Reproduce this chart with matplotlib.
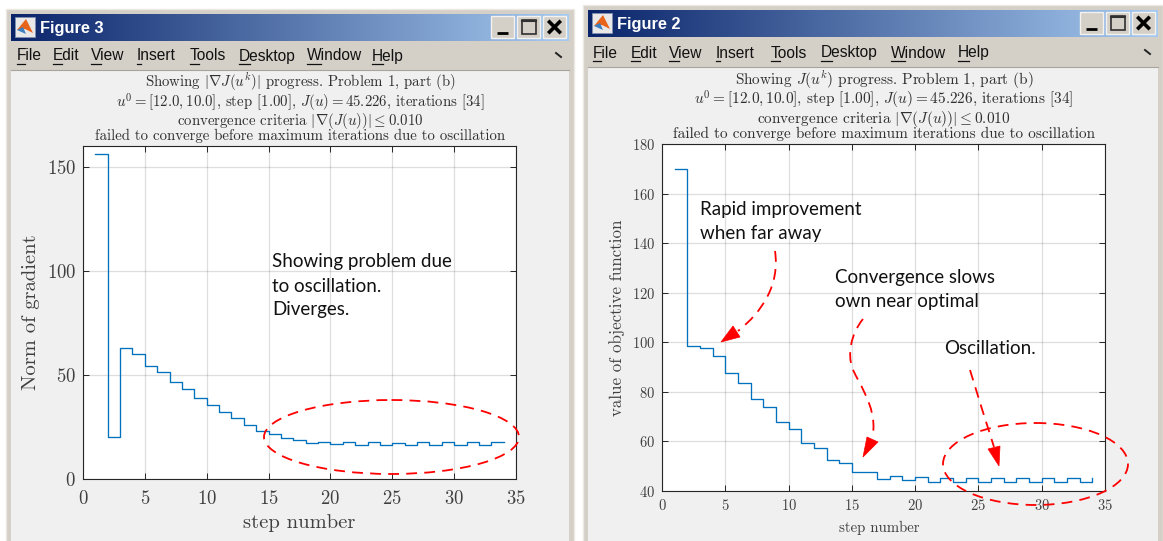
import numpy as np
import matplotlib
matplotlib.use("Agg")
import matplotlib.pyplot as plt
from matplotlib.patches import Rectangle, Ellipse, Polygon, PathPatch
from matplotlib.path import Path

plt.rcParams['mathtext.fontset'] = 'cm'
plt.rcParams['axes.unicode_minus'] = False
plt.rcParams['axes.formatter.use_mathtext'] = True

W, H = 1163, 541
SERIF = 'cmr10'
DARK = '#262626'
LINE = '#0072BD'
RED = '#FF0000'

steps = list(range(1, 35))
grad_norm = [156, 20, 63, 60.3, 54.5, 51.2, 46.5, 43.4, 38.8, 35.7, 32, 29.1, 25.8, 23.2,
             21.5, 19.5, 18.6, 17.3, 17.9, 17, 17.6, 16.5, 17.6, 16.5, 17.4, 16.5, 17.6,
             16.5, 17.6, 16.5, 17.6, 16.5, 17.6, 17.6]
objective = [169.9, 98.4, 97.8, 94.3, 87.5, 83.7, 77.1, 74, 68, 64.9, 59.5, 57.2, 52.5, 51.4,
             47.5, 47.5, 44.7, 46.2, 44.3, 45.6, 43.8, 45.2, 43.8, 45.2, 43.8, 45.2, 43.8,
             45.2, 43.8, 45.2, 43.8, 45.2, 43.8, 45.2]

x_ticks = [0, 5, 10, 15, 20, 25, 30, 35]
left_y_ticks = [0, 50, 100, 150]
right_y_ticks = [40, 60, 80, 100, 120, 140, 160, 180]

menu_names = ['File', 'Edit', 'View', 'Insert', 'Tools', 'Desktop', 'Window', 'Help']
menu_left_x = [17, 53, 91, 137, 190, 239, 307, 372]
menu_right_x = [593, 631, 669, 716, 771, 821, 891, 958]
menu_first_w = [8, 9, 10, 4, 9, 11, 14, 11]

left_title = [r'Showing $|\nabla J(u^k)|$ progress. Problem 1, part (b)',
              r'$u^0=[12.0,10.0]$, step [1.00], $J(u)=45.226$, iterations [34]',
              r'convergence criteria $|\nabla(J(u))|\leq 0.010$',
              'failed to converge before maximum iterations due to oscillation']
right_title = [r'Showing $J(u^k)$ progress. Problem 1, part (b)'] + left_title[1:]


def px_axes(fig, l, t, r, b, **kw):
    return fig.add_axes([l / W, 1 - b / H, (r - l) / W, (b - t) / H], **kw)


def draw_window(ax, x0, x1, ty0, ty1, menu_y, name, menu_x):
    # frame, menu bar and client area
    ax.add_patch(Rectangle((x0 - 5, ty0 - 5), x1 - x0 + 10, H, fc='#D4D0C8', ec='#ECE9E2', lw=1))
    ax.add_patch(Rectangle((x0, menu_y + 14), x1 - x0, H, fc='#F0F0F0', ec='none'))
    ax.plot([x0, x1], [menu_y + 13.5, menu_y + 13.5], color='#A8A49C', lw=0.8)
    grad = np.linspace(0, 1, 256)[None, :]
    cmap = matplotlib.colors.LinearSegmentedColormap.from_list('tb', ['#0A246A', '#A6CAF0'])
    ax.imshow(grad, extent=(x0, x1, ty1, ty0), aspect='auto', cmap=cmap, zorder=1.5)
    # matlab icon
    ax.add_patch(Rectangle((x0 + 4, ty0 + 3), 20, 20, fc='#E8E8E8', ec='#8090B0', lw=0.6, zorder=2))
    ax.add_patch(Polygon([(x0 + 6, ty0 + 16), (x0 + 15, ty0 + 5), (x0 + 22, ty0 + 19), (x0 + 14, ty0 + 15)],
                         fc='#E8641B', ec='none', zorder=2.1))
    ax.add_patch(Polygon([(x0 + 6, ty0 + 16), (x0 + 12, ty0 + 13), (x0 + 15, ty0 + 20)],
                         fc='#3A7FC0', ec='none', zorder=2.2))
    ax.text(x0 + 29, (ty0 + ty1) / 2 + 0.5, name, color='white', family='Liberation Sans',
            fontweight='bold', fontsize=11.8, va='center', ha='left', zorder=3)
    # buttons
    for i, bx in enumerate([x1 - 78, x1 - 52, x1 - 26]):
        ax.add_patch(Rectangle((bx, ty0 + 2), 23, 22, fc='#D4D0C8', ec='#F4F2EE', lw=1, zorder=3))
        cx, cy = bx + 11.5, ty0 + 13
        if i == 0:
            ax.plot([cx - 6, cx + 5], [cy + 6, cy + 6], color='black', lw=2, zorder=4, solid_capstyle='butt')
        elif i == 1:
            ax.add_patch(Rectangle((cx - 7, cy - 7), 14, 14, fc='none', ec='#303030', lw=1.2, zorder=4))
            ax.plot([cx - 7, cx + 7], [cy - 6, cy - 6], color='#303030', lw=1.5, zorder=4)
        else:
            ax.plot([cx - 5, cx + 5], [cy - 5, cy + 5], color='black', lw=2.6, zorder=4)
            ax.plot([cx - 5, cx + 5], [cy + 5, cy - 5], color='black', lw=2.6, zorder=4)
    # menu entries
    for nm, mx, fw in zip(menu_names, menu_x, menu_first_w):
        ax.text(mx, menu_y, nm, family='Liberation Sans', fontsize=11.2, color='#111111',
                va='center', ha='left', zorder=3)
        ax.plot([mx, mx + fw], [menu_y + 8, menu_y + 8], color='#111111', lw=0.9, zorder=3)
    ax.plot([x1 - 13, x1 - 8], [menu_y - 3, menu_y + 1], color='#222222', lw=1.4, zorder=3)


def draw_chart(ax, y, y_ticks, ylim, xlabel_size, ylabel, ylabel_size, tick_size, xpad, xlabelpad):
    ax.step(steps, y, where='post', color=LINE, lw=0.95)
    ax.set_xlim(0, 35)
    ax.set_ylim(*ylim)
    ax.set_xticks(x_ticks)
    ax.set_yticks(y_ticks)
    ax.grid(True, color='#262626', alpha=0.15, lw=0.9)
    ax.set_axisbelow(True)
    ax.tick_params(direction='in', top=True, right=True, length=4, width=0.7, color=DARK,
                   labelcolor='#404040', labelsize=tick_size, pad=5)
    ax.tick_params(axis='x', pad=xpad)
    for lab in ax.get_xticklabels() + ax.get_yticklabels():
        lab.set_fontfamily(SERIF)
    for sp in ax.spines.values():
        sp.set_color(DARK)
        sp.set_linewidth(0.8)
    ax.set_xlabel('step number', family=SERIF, fontsize=xlabel_size, color='#404040', labelpad=xlabelpad)
    ax.set_ylabel(ylabel, family=SERIF, fontsize=ylabel_size, color='#404040', labelpad=5)


def dashed_curve(ax, verts, head):
    codes = [Path.MOVETO] + [Path.CURVE4] * (len(verts) - 1)
    ax.add_patch(PathPatch(Path(verts, codes), fc='none', ec=RED, lw=1.3, ls=(0, (6, 4))))
    ax.add_patch(Polygon(head, fc=RED, ec=RED, lw=0.5))


fig = plt.figure(figsize=(W / 100, H / 100), dpi=100, facecolor='white')

bg = fig.add_axes([0, 0, 1, 1], zorder=0)
draw_window(bg, 11, 569, 14, 41, 56, 'Figure 3', menu_left_x)
draw_window(bg, 588, 1158, 10, 37, 53, 'Figure 2', menu_right_x)
bg.set_xlim(0, W)
bg.set_ylim(H, 0)
bg.axis('off')

ax_left = px_axes(fig, 83, 146, 516, 479, zorder=1)
draw_chart(ax_left, grad_norm, left_y_ticks, (0, 160), 14.8, 'Norm of gradient', 14.8, 13.5, 8, 4.5)
ax_right = px_axes(fig, 662, 144, 1105, 491, zorder=1)
draw_chart(ax_right, objective, right_y_ticks, (40, 180), 10.7, 'value of objective function', 12.2, 10.5, 5, 6)
ax_right.xaxis.label.set_x(0.49)

top = fig.add_axes([0, 0, 1, 1], zorder=2)
top.patch.set_alpha(0)
top.set_xlim(0, W)
top.set_ylim(H, 0)
top.axis('off')

top.text(300, 107, '\n'.join(left_title), family=SERIF, fontsize=10.7, color='#303030',
         ha='center', va='center', linespacing=0.86)
top.text(884, 105, '\n'.join(right_title), family=SERIF, fontsize=11, color='#303030',
         ha='center', va='center', linespacing=0.86)

notes = [(272, 262, 'Showing problem due'), (272, 286, 'to oscillation.'), (272, 310, 'Diverges.'),
         (700, 209, 'Rapid improvement'), (700, 233, 'when far away'),
         (835, 277, 'Convergence slows'), (835, 301, 'own near optimal'),
         (944, 349, 'Oscillation.')]
for nx, ny, txt in notes:
    top.text(nx, ny, txt, family='Lato', fontsize=13.5, color='#111111', ha='left', va='center')

for cx, cy, ew, eh in [(391.5, 437, 255, 74), (1035.5, 464, 185, 82)]:
    top.add_patch(Ellipse((cx, cy), ew, eh, fc='none', ec=RED, lw=1.3, ls=(0, (6, 4))))

dashed_curve(top, [(775, 251), (780, 285), (762, 312), (738, 331)],
             [(721, 342), (733, 326), (740, 337)])
dashed_curve(top, [(863, 319), (850, 335), (848, 355), (852, 367), (856, 380), (877, 405), (873, 434)],
             [(863, 457), (867, 437), (878, 442)])
dashed_curve(top, [(970, 370), (978, 396), (986, 422), (994, 447)],
             [(999, 466), (988, 449), (1000, 446)])

fig.savefig('out.png', dpi=100)
